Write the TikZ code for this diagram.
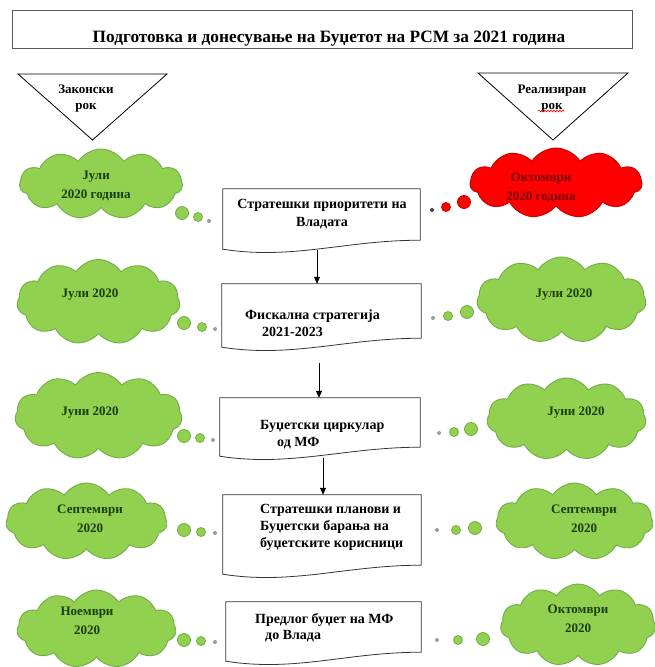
\documentclass[tikz,border=0pt]{standalone}
\usepackage{fontspec}
\setmainfont{Liberation Serif}
\usetikzlibrary{shapes.symbols,arrows.meta,calc,decorations.pathmorphing}
\definecolor{clfill}{RGB}{146,208,80}
\definecolor{cledge}{RGB}{112,173,71}
\definecolor{cltext}{RGB}{28,60,14}
\definecolor{rdfill}{RGB}{255,0,0}
\definecolor{rdedge}{RGB}{200,0,0}
\definecolor{rdtext}{RGB}{120,0,0}
\definecolor{dotgray}{RGB}{140,165,150}
\definecolor{titleedge}{RGB}{90,90,90}
\newcommand{\docpath}[1]{%
  \draw[docline] (#1.north west) -- (#1.north east) -- (#1.south east)
   .. controls ($(#1.south east)+(-75,0)$) and ($(#1.south west)+(70,20)$) .. ($(#1.south west)+(0,9)$) -- cycle;}
\begin{document}
\begin{tikzpicture}[x=1pt,y=-1pt,
  gcloud/.style={cloud, cloud puffs=11, cloud puff arc=115, cloud ignores aspect, draw=cledge, fill=clfill, line width=0.9pt, inner sep=0pt},
  rcloud/.style={gcloud, draw=rdedge, fill=rdfill},
  ctext/.style={font=\bfseries\fontsize{13}{19}\selectfont, text=cltext, align=center, inner sep=0pt},
  rtext/.style={ctext, text=rdtext},
  btext/.style={font=\bfseries\fontsize{14}{17}\selectfont, align=left, inner sep=0pt, anchor=west},
  docbox/.style={draw=none, inner sep=0pt},
  docline/.style={draw=black!80, line width=0.8pt, fill=white},
  gbub/.style={circle, draw=cledge, fill=clfill, line width=0.8pt, inner sep=0pt},
  gdot/.style={circle, fill=dotgray, inner sep=0pt, minimum size=4pt},
  rbub/.style={circle, draw=rdedge, fill=rdfill, line width=0.8pt, inner sep=0pt},
  rdot/.style={circle, fill=black!75, inner sep=0pt, minimum size=4pt},
  arr/.style={-{Triangle[length=7pt,width=6pt]}, line width=0.8pt, black},
  tri/.style={draw=black, line width=0.8pt, fill=white},
  ttext/.style={font=\bfseries\fontsize{13}{16}\selectfont, align=center, inner sep=0pt}
]
\useasboundingbox (0,0) rectangle (655,667);
\fill[white] (0,0) rectangle (655,667);

% title
\node[draw=titleedge, line width=1pt, minimum width=620pt, minimum height=38pt, inner sep=0pt] (titlebox) at (322,29) {};
\node[font=\bfseries\fontsize{17.3}{20}\selectfont, inner sep=0pt] (title) at (329,39) {Подготовка и донесување на Буџетот на РСМ за 2021 година};

% triangles
\coordinate (tla) at (18,74); \coordinate (tlb) at (167,74); \coordinate (tlc) at (92.5,140);
\draw[tri] (tla) -- (tlb) -- (tlc) -- cycle;
\node[ttext] (tltext) at (86,99) {Законски\\рок};
\coordinate (tra) at (478,73); \coordinate (trb) at (628,73); \coordinate (trc) at (553,140);
\draw[tri] (tra) -- (trb) -- (trc) -- cycle;
\node[ttext] (trtext) at (552,99) {Реализиран\\рок};
\coordinate (sqa) at (538,111); \coordinate (sqb) at (564,111);
\draw[red, line width=0.6pt, decorate, decoration={snake, amplitude=0.9pt, segment length=3pt}] (sqa) -- (sqb);

% boxes
\node[docbox, minimum width=197pt, minimum height=51pt] (box1) at (321.5,214.5) {};
\docpath{box1}
\node[font=\bfseries\fontsize{14}{18}\selectfont, align=center, inner sep=0pt] (box1t) at (322,214) {Стратешки приоритети на\\Владата};

\node[docbox, minimum width=199pt, minimum height=54pt] (box2) at (321.5,311) {};
\docpath{box2}
\node[btext] (box2t) at (245,323.5) {Фискална стратегија\\\hspace*{17pt}2021-2023};

\node[docbox, minimum width=200pt, minimum height=49pt] (box3) at (320,422.5) {};
\docpath{box3}
\node[btext] (box3t) at (260,434.5) {Буџетски циркулар\\\hspace*{17pt}од МФ};

\node[docbox, minimum width=198pt, minimum height=70pt] (box4) at (322,530) {};
\docpath{box4}
\node[btext] (box4t) at (260,527) {Стратешки планови и\\Буџетски барања на\\буџетските корисници};

\node[docbox, minimum width=195pt, minimum height=50pt] (box5) at (323.5,627) {};
\docpath{box5}
\node[btext, font=\bfseries\fontsize{14}{16}\selectfont] (box5t) at (255,627.5) {Предлог буџет на МФ\\\hspace*{10pt}до Влада};

% arrows
\coordinate (a1s) at (317,250);
\draw[arr] (a1s) -- (a1s |- box2.north);
\coordinate (a2s) at (319,363);
\draw[arr] (a2s) -- (a2s |- box3.north);
\coordinate (a3s) at (323,458);
\draw[arr] (a3s) -- (a3s |- box4.north);

% row 1
\node[gcloud, minimum width=163pt, minimum height=70pt] (c1l) at (101,184) {};
\node[ctext] (c1lt) at (96,186) {Јули\\2020 година};
\node[gbub, minimum size=13pt] (b1l1) at (182,213) {};
\node[gbub, minimum size=9pt] (b1l2) at (198,217) {};
\node[gdot] (b1l3) at (209,221) {};
\node[rcloud, minimum width=172pt, minimum height=70pt] (c1r) at (556,183) {};
\node[rtext] (c1rt) at (541,187.5) {Октомври\\2020 година};
\node[rdot] (b1r1) at (432,210) {};
\node[rbub, minimum size=9pt] (b1r2) at (446,207) {};
\node[rbub, minimum size=13pt] (b1r3) at (464,202) {};

% row 2
\node[gcloud, minimum width=163pt, minimum height=85pt] (c2l) at (98.5,302) {};
\node[ctext] (c2lt) at (90,295) {Јули 2020};
\node[gbub, minimum size=13pt] (b2l1) at (184,323) {};
\node[gbub, minimum size=9pt] (b2l2) at (202,327) {};
\node[gdot] (b2l3) at (215,329) {};
\node[gcloud, minimum width=169pt, minimum height=86pt] (c2r) at (561.5,300) {};
\node[ctext] (c2rt) at (564,295) {Јули 2020};
\node[gdot] (b2r1) at (433,318) {};
\node[gbub, minimum size=9pt] (b2r2) at (448,316) {};
\node[gbub, minimum size=13pt] (b2r3) at (467,312) {};

% row 3
\node[gcloud, minimum width=167pt, minimum height=87pt] (c3l) at (98.5,416) {};
\node[ctext] (c3lt) at (90,413) {Јуни 2020};
\node[gbub, minimum size=13pt] (b3l1) at (184,436) {};
\node[gbub, minimum size=9pt] (b3l2) at (200,438) {};
\node[gdot] (b3l3) at (213,440) {};
\node[gcloud, minimum width=159pt, minimum height=82pt] (c3r) at (566.5,419) {};
\node[ctext] (c3rt) at (576,413) {Јуни 2020};
\node[gdot] (b3r1) at (439,433) {};
\node[gbub, minimum size=9pt] (b3r2) at (454,432) {};
\node[gbub, minimum size=13pt] (b3r3) at (471,429) {};

% row 4
\node[gcloud, minimum width=161pt, minimum height=77pt] (c4l) at (86.5,521.5) {};
\node[ctext] (c4lt) at (90,519) {Септември\\2020};
\node[gbub, minimum size=13pt] (b4l1) at (184,530) {};
\node[gbub, minimum size=9pt] (b4l2) at (201,532) {};
\node[gdot] (b4l3) at (215,533) {};
\node[gcloud, minimum width=157pt, minimum height=77pt] (c4r) at (574.5,521.5) {};
\node[ctext] (c4rt) at (584,519) {Септември\\2020};
\node[gdot] (b4r1) at (437,530) {};
\node[gbub, minimum size=9pt] (b4r2) at (456,530) {};
\node[gbub, minimum size=13pt] (b4r3) at (475,528) {};

% row 5
\node[gcloud, minimum width=159pt, minimum height=78pt] (c5l) at (96.5,629) {};
\node[ctext] (c5lt) at (87,620.5) {Ноември\\2020};
\node[gbub, minimum size=13pt] (b5l1) at (184,640) {};
\node[gbub, minimum size=9pt] (b5l2) at (201,641) {};
\node[gdot] (b5l3) at (215,642) {};
\node[gcloud, minimum width=155pt, minimum height=82pt] (c5r) at (578,625) {};
\node[ctext] (c5rt) at (578,618.5) {Октомври\\2020};
\node[gdot] (b5r1) at (437,640) {};
\node[gbub, minimum size=9pt] (b5r2) at (458,640) {};
\node[gbub, minimum size=13pt] (b5r3) at (483,639) {};
\end{tikzpicture}
\end{document}
